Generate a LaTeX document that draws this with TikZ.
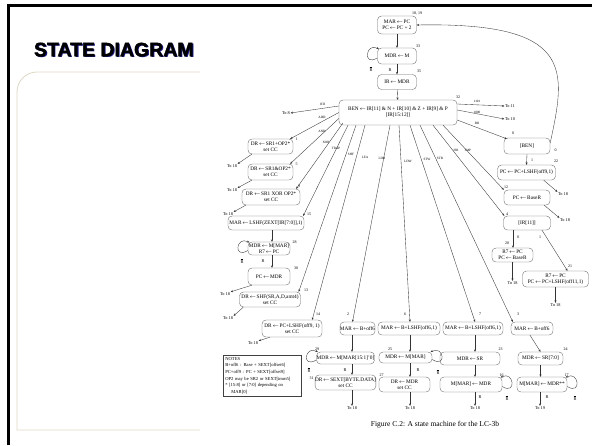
\documentclass[tikz,border=0pt]{standalone}
\usepackage{fontspec}
\setmainfont{Liberation Serif}
\newfontfamily\titlefamily{Liberation Sans}
\usetikzlibrary{arrows.meta}

\newcommand\lar{\hspace{0.5pt}$\leftarrow$\hspace{0.5pt}}
\newcommand\sdfont{\fontsize{5.3}{6}\selectfont}
\newcommand\snfont{\fontsize{4}{4.5}\selectfont}
\newcommand\slfont{\fontsize{3.3}{4}\selectfont}
\newcommand\stfont{\fontsize{4.3}{5}\selectfont}
\newcommand\rbar{$\overline{\mathrm{R}}$}

\definecolor{panelline}{HTML}{DDD8C6}
\definecolor{titleshadow}{HTML}{1C1C8C}

\tikzset{
  st/.style={draw=black!60, line width=0.35pt, rounded corners=4pt, inner sep=0pt,
             font=\sdfont, align=center},
  arr/.style={draw=black!80, line width=0.35pt, -{Stealth[length=2.4pt,width=2pt]}},
  num/.style={font=\snfont, inner sep=0pt},
  lab/.style={font=\slfont, inner sep=0pt},
  tonode/.style={font=\stfont, inner sep=0.5pt},
  panel/.style={draw=panelline, line width=0.8pt},
}

\begin{document}
\begin{tikzpicture}[x=1pt,y=1pt]
\useasboundingbox (0,0) rectangle (592,-445);
\fill[white] (0,0) rectangle (592,-445);

% slide frame and content panel
\draw[panel] (200,-72) -- (37,-72) arc[start angle=90,end angle=180,radius=20] -- (17,-430) -- (200,-430);
\draw[line width=3pt] (8.5,-445) -- (8.5,-5.5) -- (592,-5.5);

% title with its drop shadow
\node[font=\titlefamily\bfseries\fontsize{19.5}{20}\selectfont, text=titleshadow, anchor=base west, inner sep=0pt]
  (titleshade) at (35,-57.5) {STATE DIAGRAM};
\node[font=\titlefamily\bfseries\fontsize{19.5}{20}\selectfont, text=black, anchor=base west, inner sep=0pt,
      draw=none] (title) at (33.8,-56.3) {\special{pdf:literal 2 Tr 0.35 w}STATE DIAGRAM\special{pdf:literal 0 Tr}};

% ---------- fetch / decode ----------
\node[st, minimum width=39pt, minimum height=18pt] (s18) at (397,-25) {MAR\lar PC\\PC\lar PC + 2};
\node[st, minimum width=39pt, minimum height=16pt] (s33) at (397,-56) {MDR\lar M};
\node[st, minimum width=39pt, minimum height=15pt] (s35) at (397,-82) {IR\lar MDR};
\node[st, minimum width=118pt, minimum height=25pt] (s32) at (398,-112.5)
  {BEN\lar IR[11] \& N + IR[10] \& Z + IR[9] \& P\\{}[IR[15:12]]};

\node[num] (n18) at (417,-13) {18, 19};
\node[num] (n33) at (418,-46) {33};
\node[num] (n35) at (419,-71) {35};
\node[num] (n32) at (458,-97.5) {32};

\draw[arr] (s18) -- (s33);
\draw[arr] (s33) -- (s35);
\draw[arr] (s35) -- (s32);
\draw[arr] ([yshift=-2pt]s33.west) .. controls +(-15,-9) and +(-13,7) .. ([xshift=1.5pt,yshift=7pt]s33.west);
\node[lab, font=\stfont] (r33b) at (371,-69) {\rbar};
\node[lab, font=\stfont] (r33) at (390,-70) {R};

% ---------- right side ----------
\node[tonode] (t11) at (510,-106) {To 11};
\node[tonode] (t10) at (510,-119) {To 10};
\node[st, minimum width=46pt, minimum height=16pt] (s0) at (527,-146) {[BEN]};
\node[st, minimum width=58pt, minimum height=15pt] (s22) at (526.5,-172.5) {PC\lar PC+LSHF(off9,1)};
\node[st, minimum width=46pt, minimum height=15pt] (s12) at (527,-197.5) {PC\lar BaseR};
\node[st, minimum width=47pt, minimum height=14pt] (s4) at (527,-223) {[IR[11]]};
\node[st, minimum width=41pt, minimum height=14pt] (s20) at (512.5,-255) {R7\lar PC\\PC\lar BaseR};
\node[st, minimum width=66pt, minimum height=16pt] (s21) at (555.5,-279) {R7\lar PC\\PC\lar PC+LSHF(off11,1)};

\node[num] (n0) at (513,-133) {0};
\node[num] (n22) at (556,-161) {22};
\node[num] (n12) at (506,-187) {12};
\node[num] (n4) at (507,-214) {4};
\node[num] (n20) at (507,-243) {20};
\node[num] (n21) at (570,-266) {21};

\draw[arr] ([yshift=8.5pt]s32.east) -- (t11.west);
\draw[arr] ([yshift=2.5pt]s32.east) -- (t10.west);
\draw[arr] ([yshift=-7.5pt]s32.east) -- ([xshift=3pt,yshift=-1pt]s0.north west);
\node[lab] (l1101) at (477,-101.5) {1101};
\node[lab] (l1000) at (477,-112) {1000};
\node[lab] (lbr) at (477,-123) {BR};

\draw[arr] ([yshift=3pt]s0.east) .. controls (566,-70) and (575,-22) .. (s18.east);
\node[num] (b0) at (555.5,-150) {0};
\draw[arr] (s0.south) -- (s22.north);
\node[num] (b1) at (532,-160) {1};

\node[tonode] (t22) at (563,-194) {To 18};
\draw[arr] ([xshift=-12pt]s22.south east) -- (t22.north west);
\node[tonode] (t12) at (565,-220) {To 18};
\draw[arr] ([xshift=-6pt]s12.south east) -- (t12.north west);

\draw[arr] ([xshift=-14pt]s4.south) -- ([xshift=0.5pt]s20.north);
\node[num] (b40) at (518,-237) {0};
\draw[arr] ([xshift=15pt]s4.south) -- ([xshift=12pt]s21.north);
\node[num] (b41) at (540,-237) {1};

\node[tonode] (t20) at (512.5,-283) {To 18};
\draw[arr] (s20.south) -- (t20.north);
\node[tonode] (t21) at (555.5,-305) {To 18};
\draw[arr] (s21.south) -- (t21.north);

% ---------- left column ----------
\node[tonode] (t8) at (286,-113) {To 8};
\node[st, minimum width=45pt, minimum height=15pt] (s1) at (270.5,-146.5) {DR\lar SR1+OP2*\\set CC};
\node[st, minimum width=45pt, minimum height=16pt] (s5) at (270.5,-172) {DR\lar SR1\&OP2*\\set CC};
\node[st, minimum width=58pt, minimum height=16pt] (s9) at (271,-197) {DR\lar SR1 XOR OP2*\\set CC};
\node[st, minimum width=76pt, minimum height=14pt] (s15) at (266,-223) {MAR\lar LSHF(ZEXT[IR[7:0]],1)};
\node[st, minimum width=42pt, minimum height=13pt] (s28) at (269,-248.5) {MDR\lar M[MAR]\\R7\lar PC};
\node[st, minimum width=42pt, minimum height=17pt] (s30) at (269,-276.5) {PC\lar MDR};
\node[st, minimum width=61pt, minimum height=15pt] (s13) at (270,-299.5) {DR\lar SHF(SR,A,D,amt4)\\set CC};
\node[st, minimum width=60pt, minimum height=17pt] (s14) at (292,-328.5) {DR\lar PC+LSHF(off9, 1)\\set CC};

\node[num] (n1) at (296.5,-139) {1};
\node[num] (n5) at (296.5,-164) {5};
\node[num] (n9) at (299,-186) {9};
\node[num] (n15) at (309,-214) {15};
\node[num] (n28) at (294.5,-242) {28};
\node[num] (n30) at (296,-268.5) {30};
\node[num] (n13) at (306,-290.5) {13};
\node[num] (n14) at (318,-314.5) {14};

\draw[arr] ([yshift=6.5pt]s32.west) -- (t8.east);
\draw[arr] (s32.west) -- ([xshift=-3pt]s1.north east);
\draw[arr] ([yshift=-6pt]s32.west) -- ([xshift=-3pt]s5.north east);
\draw[arr] ([xshift=4pt,yshift=2pt]s32.south west) -- ([xshift=-4pt]s9.north east);
\draw[arr] ([xshift=-50pt]s32.south) -- ([xshift=-1pt]s15.north east);
\draw[arr] ([xshift=-42pt]s32.south) -- ([xshift=-2pt]s13.north east);
\draw[arr] ([xshift=-33pt]s32.south) -- ([xshift=-10pt]s14.north east);
\node[lab] (lrti) at (323,-104) {RTI};
\node[lab] (ladd) at (322,-117) {ADD};
\node[lab] (land) at (322,-131) {AND};
\node[lab] (lxor) at (326,-142) {XOR};
\node[lab] (ltrap) at (336,-148) {TRAP};
\node[lab] (lshf) at (351,-154) {SHF};
\node[lab] (llea) at (365,-157) {LEA};

\node[tonode] (t1) at (232,-166) {To 18};
\draw[arr] ([xshift=4pt]s1.south west) -- (t1.north east);
\node[tonode] (t5) at (232,-190) {To 18};
\draw[arr] ([xshift=4pt]s5.south west) -- (t5.north east);
\node[tonode] (t9) at (228,-214) {To 18};
\draw[arr] ([xshift=4pt]s9.south west) -- (t9.north east);

\draw[arr] ([xshift=6pt]s15.south) -- ([xshift=3pt]s28.north);
\draw[arr] ([yshift=-2pt]s28.west) .. controls +(-15,-9) and +(-13,7) .. ([xshift=1.5pt,yshift=6pt]s28.west);
\node[lab, font=\stfont] (r28b) at (242,-261) {\rbar};
\draw[arr] ([xshift=3pt]s28.south) -- ([xshift=3pt]s30.north);
\node[lab, font=\stfont] (r28) at (263,-261) {R};

\node[tonode] (t30) at (225,-294) {To 18};
\draw[arr] ([xshift=4pt]s30.south west) -- (t30.north east);
\node[tonode] (t13) at (228,-318) {To 18};
\draw[arr] ([xshift=4pt]s13.south west) -- (t13.north east);
\node[tonode] (t14) at (253,-343) {To 18};
\draw[arr] ([xshift=8pt]s14.south west) -- (t14.north east);

% notes
\node[draw=black!75, line width=0.6pt, align=left, inner sep=2pt, anchor=north west,
      font=\fontsize{4.6}{6.6}\selectfont, text width=74pt] (notes) at (223,-355)
  {NOTES\\
   B+off6 : Base + SEXT[offset6]\\
   PC+off9 : PC + SEXT[offset9]\\
   *OP2 may be SR2 or SEXT[imm5]\\
   ** [15:8] or [7:0] depending on\\
   \hspace*{6pt}MAR[0]};

% ---------- memory access row ----------
\node[st, minimum width=34pt, minimum height=13pt] (s2) at (357.5,-328.5) {MAR\lar B+off6};
\node[st, minimum width=62pt, minimum height=13pt] (s6) at (409,-328.5) {MAR\lar B+LSHF(off6,1)};
\node[st, minimum width=60pt, minimum height=13pt] (s7) at (473,-328.5) {MAR\lar B+LSHF(off6,1)};
\node[st, minimum width=42pt, minimum height=13pt] (s3) at (532,-328.5) {MAR\lar B+off6};

\node[num] (n2) at (348,-314.5) {2};
\node[num] (n6) at (405,-314.5) {6};
\node[num] (n7) at (480,-314.5) {7};
\node[num] (n3) at (518,-314.5) {3};

\draw[arr] ([xshift=-8pt]s32.south) -- ([xshift=-5pt]s2.north);
\draw[arr] ([xshift=1pt]s32.south) -- ([xshift=1pt]s6.north);
\draw[arr] ([xshift=12pt]s32.south) -- ([xshift=2pt]s7.north);
\draw[arr] ([xshift=22pt]s32.south) -- ([xshift=2pt]s3.north west);
\draw[arr] ([xshift=35pt]s32.south) -- ([xshift=1pt]s4.north west);
\draw[arr] ([xshift=45pt]s32.south) -- (s12.north west);
\node[lab] (lldb) at (382,-158) {LDB};
\node[lab] (lldw) at (408,-161) {LDW};
\node[lab] (lstw) at (427,-159) {STW};
\node[lab] (lstb) at (440,-158) {STB};
\node[lab] (ljsr) at (456,-150) {JSR};
\node[lab] (ljmp) at (468,-150) {JMP};

\node[st, minimum width=58pt, minimum height=12pt] (s29) at (345.5,-358) {MDR\lar M[MAR[15:1]'0]};
\node[st, minimum width=58pt, minimum height=15pt] (s31) at (345.5,-382.5) {DR\lar SEXT[BYTE.DATA]\\set CC};
\node[st, minimum width=53pt, minimum height=11pt] (s25) at (405.5,-357.5) {MDR\lar M[MAR]};
\node[st, minimum width=51pt, minimum height=15pt] (s27) at (404.5,-384.5) {DR\lar MDR\\set CC};
\node[st, minimum width=60pt, minimum height=13pt] (s23) at (470,-358.5) {MDR\lar SR};
\node[st, minimum width=62pt, minimum height=15pt] (s16) at (471,-384.5) {M[MAR]\lar MDR};
\node[st, minimum width=45pt, minimum height=13pt] (s24) at (540.5,-358.5) {MDR\lar SR[7:0]};
\node[st, minimum width=50pt, minimum height=15pt] (s17) at (542,-384.5) {M[MAR]\lar MDR**};

\node[num] (n29) at (317,-349) {29};
\node[num] (n31) at (311.5,-378) {31};
\node[num] (n25) at (390,-349) {25};
\node[num] (n27) at (381.5,-375) {27};
\node[num] (n23) at (500.5,-349) {23};
\node[num] (n16) at (501.5,-375) {16};
\node[num] (n24) at (565.5,-349) {24};
\node[num] (n17) at (566.5,-375) {17};

\draw[arr] ([xshift=-5.5pt]s2.south) -- ([xshift=6.5pt]s29.north);
\draw[arr] ([xshift=1pt]s6.south) -- ([xshift=4.5pt]s25.north);
\draw[arr] ([xshift=2pt]s7.south) -- ([xshift=5pt]s23.north);
\draw[arr] ([xshift=-2pt]s3.south) -- (s24.north);

\draw[arr] ([yshift=-2pt]s29.west) .. controls +(-15,-9) and +(-13,7) .. ([xshift=1.5pt,yshift=6pt]s29.west);
\node[lab, font=\stfont] (r29b) at (309,-370) {\rbar};
\draw[arr] ([xshift=6.5pt]s29.south) -- ([xshift=6.5pt]s31.north);
\node[lab, font=\stfont] (r29) at (345,-370) {R};

\draw[arr] ([yshift=-2pt]s25.east) .. controls +(15,-9) and +(13,7) .. ([xshift=-1.5pt,yshift=5.5pt]s25.east);
\node[lab, font=\stfont] (r25b) at (438,-372) {\rbar};
\draw[arr] ([xshift=4.5pt]s25.south) -- ([xshift=5.5pt]s27.north);
\node[lab, font=\stfont] (r25) at (418,-370) {R};

\draw[arr] ([xshift=5pt]s23.south) -- ([xshift=4pt]s16.north);
\draw[arr] ([yshift=-2pt]s16.east) .. controls +(15,-9) and +(13,7) .. ([xshift=-1.5pt,yshift=7pt]s16.east);
\node[lab, font=\stfont] (r16b) at (507,-398) {\rbar};
\node[lab, font=\stfont] (r16) at (480,-397) {R};

\draw[arr] (s24.south) -- ([xshift=-1.5pt]s17.north);
\draw[arr] ([yshift=-2pt]s17.east) .. controls +(15,-9) and +(13,7) .. ([xshift=-1.5pt,yshift=7pt]s17.east);
\node[lab, font=\stfont] (r17b) at (575,-398) {\rbar};
\node[lab, font=\stfont] (r17) at (547,-397) {R};

\node[tonode] (t31) at (352,-408) {To 18};
\draw[arr] ([xshift=6.5pt]s31.south) -- (t31.north);
\node[tonode] (t27) at (410,-408) {To 18};
\draw[arr] ([xshift=5.5pt]s27.south) -- (t27.north);
\node[tonode] (t16) at (475,-408) {To 18};
\draw[arr] ([xshift=4pt]s16.south) -- (t16.north);
\node[tonode] (t17) at (540,-408) {To 19};
\draw[arr] ([xshift=-2pt]s17.south) -- (t17.north);

% caption
\node[font=\fontsize{7.5}{9}\selectfont, inner sep=0pt] (caption) at (435,-425) {Figure C.2: A state machine for the LC-3b};
\end{tikzpicture}
\end{document}
